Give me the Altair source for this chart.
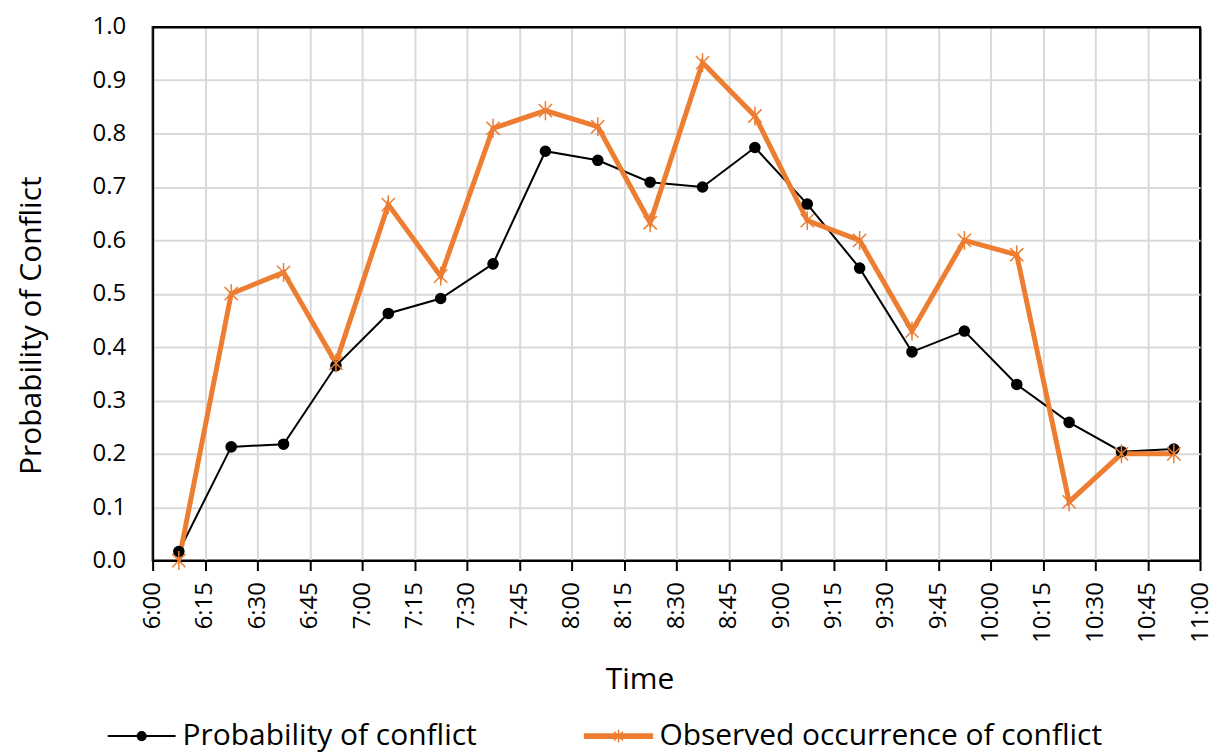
import altair as alt
import pandas as pd

# ---- data ----
times = ["6:07:30", "6:22:30", "6:37:30", "6:52:30", "7:07:30", "7:22:30", "7:37:30",
         "7:52:30", "8:07:30", "8:22:30", "8:37:30", "8:52:30", "9:07:30", "9:22:30",
         "9:37:30", "9:52:30", "10:07:30", "10:22:30", "10:37:30", "10:52:30"]
prob = [0.017, 0.213, 0.218, 0.365, 0.463, 0.491, 0.556, 0.767, 0.750, 0.709,
        0.700, 0.774, 0.668, 0.548, 0.391, 0.430, 0.330, 0.259, 0.204, 0.209]
obs = [0.000, 0.500, 0.540, 0.370, 0.667, 0.533, 0.810, 0.843, 0.813, 0.633,
       0.933, 0.833, 0.637, 0.600, 0.430, 0.600, 0.573, 0.110, 0.200, 0.200]
series_names = ["Probability of conflict", "Observed occurrence of conflict"]
x_tick_labels = ["6:00", "6:15", "6:30", "6:45", "7:00", "7:15", "7:30", "7:45",
                 "8:00", "8:15", "8:30", "8:45", "9:00", "9:15", "9:30", "9:45",
                 "10:00", "10:15", "10:30", "10:45", "11:00"]
y_ticks = [0.0, 0.1, 0.2, 0.3, 0.4, 0.5, 0.6, 0.7, 0.8, 0.9, 1.0]


def to_min(s):
    parts = [int(p) for p in s.split(":")]
    while len(parts) < 3:
        parts.append(0)
    return parts[0] * 60 + parts[1] + parts[2] / 60.0


tick_vals = [to_min(t) for t in x_tick_labels]
df = pd.DataFrame({"t": [to_min(t) for t in times], "prob": prob, "obs": obs})

FONT = "Open Sans"
BLACK = "#000000"
GRID = "#d9d9d9"
ORANGE = "#ED7D31"
ASTERISK = "M-0.7,-0.7L0.7,0.7M-0.7,0.7L0.7,-0.7M0,-1L0,1"

x_enc = alt.X(
    "t:Q",
    scale=alt.Scale(domain=[tick_vals[0], tick_vals[-1]], nice=False, zero=False),
    axis=alt.Axis(
        values=tick_vals,
        labelExpr="floor(datum.value/60) + ':' + (datum.value % 60 == 0 ? '00' : datum.value % 60)",
        labelAngle=270,
        labelFontSize=24,
        labelPadding=11,
        ticks=True,
        tickSize=10,
        tickColor=BLACK,
        tickWidth=2,
        domainColor=BLACK,
        domainWidth=2,
        gridColor={"condition": {"test": f"datum.value >= {tick_vals[-1]}", "value": BLACK}, "value": GRID},
        gridWidth=2,
        title="Time",
        titleFontSize=30,
        titleFontWeight="normal",
        titleX=488,
        titleY=128,
        titleAlign="center",
        titleBaseline="alphabetic",
    ),
)


def y_enc(field):
    return alt.Y(
        f"{field}:Q",
        scale=alt.Scale(domain=[0, 1], nice=False),
        axis=alt.Axis(
            values=y_ticks,
            format=".1f",
            ticks=False,
            labelFontSize=24,
            labelPadding=27,
            domainColor=BLACK,
            domainWidth=2,
            gridColor={"condition": {"test": "datum.value >= 1", "value": BLACK}, "value": GRID},
            gridWidth=2,
            title="Probability of Conflict",
            titleFontSize=30,
            titleFontWeight="normal",
            titleX=-121,
            titleY=299,
            titleAlign="center",
            titleBaseline="middle",
            titleAngle=270,
        ),
    )


base = alt.Chart(df)

prob_line = base.mark_line(color=BLACK, strokeWidth=2).encode(x=x_enc, y=y_enc("prob"))
prob_pts = base.mark_point(filled=True, color=BLACK, size=135, opacity=1).encode(
    x=x_enc, y=y_enc("prob"))
obs_line = base.mark_line(color=ORANGE, strokeWidth=5).encode(x=x_enc, y=y_enc("obs"))
obs_pts = base.mark_point(filled=False, shape=ASTERISK, color=ORANGE, size=360,
                          strokeWidth=1.5, opacity=1).encode(x=x_enc, y=y_enc("obs"))

# legend-only layer (no marks drawn): line + marker symbols
LEG_CIRCLE = "M-1,0L1,0M-0.12,0A0.12,0.12 0 1,0 0.12,0A0.12,0.12 0 1,0 -0.12,0"
LEG_AST = ("M-1,-0.065L1,-0.065L1,0.065L-1,0.065Z"
           "M-0.13,-0.13L0.13,0.13M-0.13,0.13L0.13,-0.13M0,-0.19L0,0.19")
legend_df = pd.DataFrame({"series": series_names})
leg = alt.Legend(title=None)
legend_layer = alt.Chart(legend_df).mark_point(filled=True, opacity=1).encode(
    x=alt.value(0),
    y=alt.value(0),
    fill=alt.Fill("series:N", scale=alt.Scale(domain=series_names, range=[BLACK, ORANGE]), legend=leg),
    stroke=alt.Stroke("series:N", scale=alt.Scale(domain=series_names, range=[BLACK, ORANGE]), legend=leg),
    shape=alt.Shape("series:N", scale=alt.Scale(domain=series_names, range=[LEG_CIRCLE, LEG_AST]), legend=leg),
    strokeWidth=alt.StrokeWidth("series:N", scale=alt.Scale(domain=series_names, range=[2, 1.5]), legend=leg),
).transform_filter("false")

chart = (
    alt.layer(prob_line, obs_line, prob_pts, obs_pts, legend_layer)
    .properties(
        width=1050,
        height=535,
        autosize=alt.AutoSizeParams(type="none"),
        padding={"left": 145, "top": 18, "right": 16, "bottom": 194},
    )
    .configure(font=FONT)
    .configure_view(stroke=BLACK, strokeWidth=2)
    .configure_axis(labelColor=BLACK, titleColor=BLACK, labelFont=FONT, titleFont=FONT)
    .configure_legend(
        orient="none",
        legendX=-46,
        legendY=676,
        direction="horizontal",
        columns=2,
        columnPadding=104,
        symbolSize=4624,
        labelFontSize=30,
        labelFont=FONT,
        labelColor=BLACK,
        labelLimit=0,
        labelOffset=6,
        padding=0,
    )
)

chart.save("out.html", embed_options={"renderer": "svg", "actions": False})
